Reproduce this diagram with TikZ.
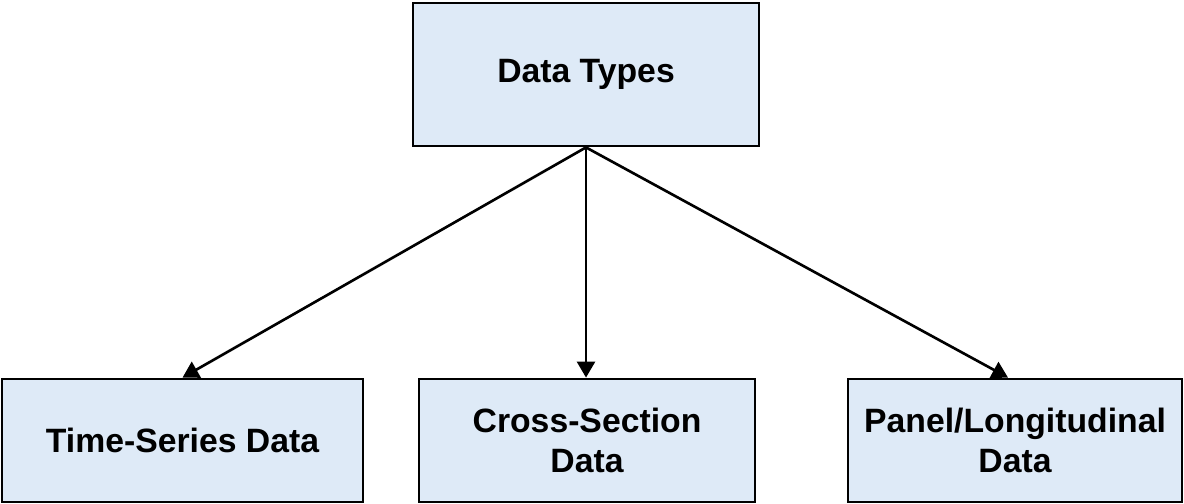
\documentclass[tikz,border=0pt]{standalone}
\usepackage{fontspec}
\setmainfont{Liberation Sans}
\usepackage{tikz}
\usetikzlibrary{arrows.meta}
\definecolor{boxblue}{HTML}{DEEAF7}
\tikzstyle{typebox} = [draw=black, line width=1.6pt, fill=boxblue, align=center, font=\fontsize{19.2}{22.6}\selectfont\bfseries]
\tikzstyle{link} = [line width=1.5pt, -{Triangle[length=0.32cm, width=0.36cm]}]

\begin{document}
\begin{tikzpicture}
    \useasboundingbox (0,0) rectangle (23.68,-10.08);

    % root
    \node[typebox, minimum width=6.92cm, minimum height=2.86cm] (dtypes) at (11.72,-1.49) {Data Types};
    % data kinds
    \node[typebox, minimum width=7.22cm, minimum height=2.46cm] (tseries) at (3.65,-8.81) {Time-Series Data};
    \node[typebox, minimum width=6.72cm, minimum height=2.46cm] (xsection) at (11.74,-8.81) {Cross-Section\\Data};
    \node[typebox, minimum width=6.68cm, minimum height=2.46cm] (panel) at (20.30,-8.81) {Panel/Longitudinal\\Data};

    % arrows root -> kinds
    \draw[link] (dtypes.south) -- (tseries.north);
    \draw[link] (dtypes.south) -- (dtypes.south |- xsection.north);
    \draw[link] (dtypes.south) -- ([xshift=-0.14cm]panel.north);
\end{tikzpicture}
\end{document}
